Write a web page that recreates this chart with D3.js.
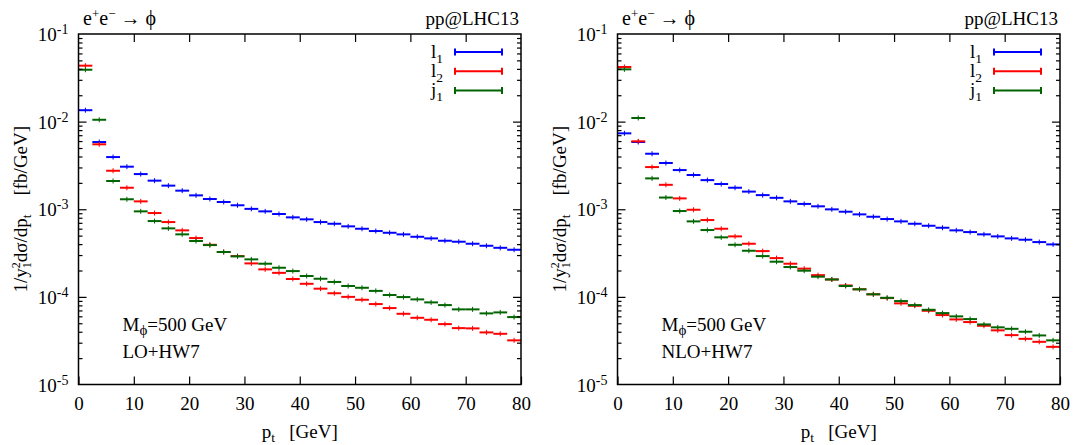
<!DOCTYPE html>
<html>
<head>
<meta charset="utf-8">
<script src="https://cdn.jsdelivr.net/npm/d3@7"></script>
<style>
  body { margin: 0; background: #fff; }
  svg text { font-family: "Liberation Serif", "Times New Roman", serif; fill: #000; }
</style>
</head>
<body>
<svg id="chart" width="1073" height="445"></svg>
<script>
// pt bins, 2.5 GeV wide
const binLow = [0, 2.5, 5, 7.5, 10, 12.5, 15, 17.5, 20, 22.5, 25, 27.5, 30, 32.5, 35, 37.5,
  40, 42.5, 45, 47.5, 50, 52.5, 55, 57.5, 60, 62.5, 65, 67.5, 70, 72.5, 75, 77.5];
const binWidth = 2.5;
const xTicks = [0, 10, 20, 30, 40, 50, 60, 70, 80];
const yDecades = [-5, -4, -3, -2, -1];

// LO+HW7
const loL1 = [0.0135, 0.00585, 0.00394, 0.00306, 0.00252, 0.00212, 0.00186, 0.00163, 0.00144, 0.00131,
  0.00121, 0.00111, 0.00101, 9.46e-4, 8.82e-4, 8.08e-4, 7.67e-4, 7.14e-4, 6.83e-4, 6.38e-4, 5.99e-4,
  5.64e-4, 5.39e-4, 5.17e-4, 4.85e-4, 4.65e-4, 4.37e-4, 4.26e-4, 4.04e-4, 3.83e-4, 3.63e-4, 3.45e-4];
const loL2 = [0.0435, 0.00551, 0.00275, 0.00176, 0.00123, 9.05e-4, 7.14e-4, 5.74e-4, 4.69e-4, 3.93e-4,
  3.25e-4, 2.92e-4, 2.41e-4, 2.06e-4, 1.88e-4, 1.60e-4, 1.41e-4, 1.24e-4, 1.10e-4, 1.00e-4, 9.27e-5,
  8.28e-5, 7.45e-5, 6.41e-5, 5.77e-5, 5.48e-5, 4.89e-5, 4.40e-5, 4.37e-5, 3.93e-5, 3.79e-5, 3.19e-5];
const loJ1 = [0.0391, 0.0105, 0.0021, 0.0013, 9.46e-4, 7.33e-4, 6.05e-4, 5.17e-4, 4.34e-4, 3.90e-4,
  3.25e-4, 2.90e-4, 2.68e-4, 2.39e-4, 2.15e-4, 1.97e-4, 1.73e-4, 1.61e-4, 1.48e-4, 1.33e-4, 1.27e-4,
  1.17e-4, 1.05e-4, 9.95e-5, 9.36e-5, 8.65e-5, 8.06e-5, 7.20e-5, 7.20e-5, 6.48e-5, 6.65e-5, 5.88e-5];

// NLO+HW7
const nloL1 = [0.00735, 0.00585, 0.0043, 0.00337, 0.0028, 0.00246, 0.00215, 0.00194, 0.00176, 0.00159,
  0.00145, 0.00135, 0.00123, 0.00115, 0.00108, 9.97e-4, 9.37e-4, 8.74e-4, 8.21e-4, 7.73e-4, 7.27e-4,
  6.83e-4, 6.48e-4, 6.15e-4, 5.74e-4, 5.49e-4, 5.17e-4, 4.90e-4, 4.65e-4, 4.49e-4, 4.22e-4, 3.97e-4];
const nloL2 = [0.042, 0.00596, 0.00303, 0.0019, 0.00133, 9.87e-4, 7.53e-4, 5.99e-4, 4.90e-4, 4.04e-4,
  3.33e-4, 2.77e-4, 2.39e-4, 2.10e-4, 1.77e-4, 1.58e-4, 1.35e-4, 1.22e-4, 1.07e-4, 9.69e-5, 8.43e-5,
  7.91e-5, 6.94e-5, 6.20e-5, 5.53e-5, 5.16e-5, 4.68e-5, 4.15e-5, 3.66e-5, 3.32e-5, 3.07e-5, 2.69e-5];
const nloJ1 = [0.0395, 0.011, 0.00225, 0.00136, 9.54e-4, 7.27e-4, 5.79e-4, 4.78e-4, 3.93e-4, 3.36e-4,
  2.92e-4, 2.52e-4, 2.19e-4, 1.99e-4, 1.70e-4, 1.58e-4, 1.33e-4, 1.22e-4, 1.07e-4, 9.76e-5, 8.96e-5,
  8.06e-5, 7.12e-5, 6.53e-5, 5.99e-5, 5.58e-5, 4.85e-5, 4.49e-5, 4.32e-5, 4.00e-5, 3.63e-5, 3.19e-5];

const seriesNames = ["l", "l", "j"];
const seriesSubs = ["1", "2", "1"];
const seriesColors = ["#0000ff", "#ff0000", "#006400"];

const $svg = d3.select("#chart");
const plotTop = 34,
  plotBottom = 384.5,
  fontSize = 19;

const panels = [
  { left: 78.5, right: 521, order: "LO+HW7", series: [loL1, loL2, loJ1] },
  { left: 617.5, right: 1060, order: "NLO+HW7", series: [nloL1, nloL2, nloJ1] }
];

const y = d3.scaleLog().domain([1e-5, 1e-1]).range([plotBottom, plotTop]);
const yMajor = yDecades.map(k => Math.pow(10, k));
const yMinor = [];
yDecades.slice(0, -1).forEach(k => {
  for (let m = 2; m <= 9; m++) yMinor.push(m * Math.pow(10, k));
});

function styleAxis(g) {
  g.select(".domain").remove();
  g.selectAll(".tick line").attr("stroke", "#000").attr("stroke-width", 1.2);
  g.selectAll("text").attr("font-family", null).attr("font-size", fontSize).attr("fill", "#000");
}

function drawPanel(p) {
  const x = d3.scaleLinear().domain([0, 80]).range([p.left, p.right]);
  const g = $svg.append("g");

  // histogram bins with their error ticks
  p.series.forEach((vals, s) => {
    const sg = g.append("g").attr("stroke", seriesColors[s]);
    sg.selectAll("line.bin")
      .data(vals)
      .join("line")
      .attr("class", "bin")
      .attr("x1", (d, i) => x(binLow[i]))
      .attr("x2", (d, i) => x(binLow[i] + binWidth))
      .attr("y1", d => y(d))
      .attr("y2", d => y(d))
      .attr("stroke-width", 2);
    sg.selectAll("line.err")
      .data(vals)
      .join("line")
      .attr("class", "err")
      .attr("x1", (d, i) => x(binLow[i] + binWidth / 2))
      .attr("x2", (d, i) => x(binLow[i] + binWidth / 2))
      .attr("y1", d => y(d) - 2.5)
      .attr("y2", d => y(d) + 2.5)
      .attr("stroke-width", 1);
  });

  // axes, ticks pointing inward on all four sides
  g.append("g")
    .attr("transform", `translate(0,${plotBottom})`)
    .call(d3.axisBottom(x).tickValues(xTicks).tickSize(-8).tickPadding(12).tickFormat(d3.format("d")))
    .call(styleAxis);
  g.append("g")
    .attr("transform", `translate(0,${plotTop})`)
    .call(d3.axisTop(x).tickValues(xTicks.slice(1, -1)).tickSize(-8).tickFormat(""))
    .call(styleAxis);
  [[d3.axisLeft, p.left], [d3.axisRight, p.right]].forEach(([axisFn, pos]) => {
    g.append("g")
      .attr("transform", `translate(${pos},0)`)
      .call(axisFn(y).tickValues(yMajor.slice(1, -1)).tickSize(-8).tickFormat(""))
      .call(styleAxis);
    g.append("g")
      .attr("transform", `translate(${pos},0)`)
      .call(axisFn(y).tickValues(yMinor).tickSize(-4).tickFormat(""))
      .call(styleAxis);
  });

  g.append("rect")
    .attr("x", p.left)
    .attr("y", plotTop)
    .attr("width", p.right - p.left)
    .attr("height", plotBottom - plotTop)
    .attr("fill", "none")
    .attr("stroke", "#000")
    .attr("stroke-width", 1.5);

  // y tick labels 10^k
  yDecades.forEach(k => {
    const t = g.append("text")
      .attr("x", p.left - 10)
      .attr("y", y(Math.pow(10, k)) + 7)
      .attr("text-anchor", "end")
      .attr("font-size", fontSize);
    t.append("tspan").text("10");
    t.append("tspan").attr("dy", -7).attr("font-size", 14).text(k);
  });

  // axis titles
  const xl = g.append("text")
    .attr("x", (p.left + p.right) / 2)
    .attr("y", 438)
    .attr("text-anchor", "middle")
    .attr("font-size", fontSize);
  xl.append("tspan").text("p");
  xl.append("tspan").attr("dy", 4).attr("font-size", 13.5).text("t");
  xl.append("tspan").attr("dy", -4).text("\u00a0\u00a0\u00a0[GeV]");

  const yl = g.append("text")
    .attr("transform", `translate(${p.left - 51.5},${(plotTop + plotBottom) / 2}) rotate(-90)`)
    .attr("text-anchor", "middle")
    .attr("font-size", fontSize);
  yl.append("tspan").text("1/y");
  yl.append("tspan").attr("dy", -7).attr("font-size", 12).text("2");
  yl.append("tspan").attr("dx", -6).attr("dy", 11).attr("font-size", 12).text("1");
  yl.append("tspan").attr("dy", -4).text("d\u03c3/dp");
  yl.append("tspan").attr("dy", 4).attr("font-size", 13.5).text("t");
  yl.append("tspan").attr("dy", -4).text("\u00a0\u00a0\u00a0\u00a0[fb/GeV]");

  // process / collider labels
  const tt = g.append("text").attr("x", p.left + 4.5).attr("y", 25).attr("font-size", 20);
  tt.append("tspan").text("e");
  tt.append("tspan").attr("dy", -7).attr("font-size", 13).text("+");
  tt.append("tspan").attr("dy", 7).text("e");
  tt.append("tspan").attr("dy", -7).attr("font-size", 13).text("\u2212");
  tt.append("tspan").attr("dy", 7).text("\u00a0\u2192\u00a0\u03d5");
  g.append("text")
    .attr("x", p.right - 2)
    .attr("y", 25)
    .attr("text-anchor", "end")
    .attr("font-size", fontSize)
    .text("pp@LHC13");

  // mass and order annotation
  const mt = g.append("text").attr("x", p.left + 44).attr("y", 330.5).attr("font-size", fontSize);
  mt.append("tspan").text("M");
  mt.append("tspan").attr("dy", 4).attr("font-size", 15).text("\u03d5");
  mt.append("tspan").attr("dy", -4).text("=500 GeV");
  g.append("text")
    .attr("x", p.left + 44)
    .attr("y", 357.5)
    .attr("font-size", fontSize)
    .text(p.order);

  // legend
  const lx1 = p.right - 66,
    lx2 = p.right - 19;
  seriesNames.forEach((name, s) => {
    const ly = 52 + s * 19.2;
    const lt = g.append("text")
      .attr("x", lx1 - 12)
      .attr("y", ly + 6)
      .attr("text-anchor", "end")
      .attr("font-size", fontSize);
    lt.append("tspan").text(name);
    lt.append("tspan").attr("dy", 5).attr("font-size", 13.5).text(seriesSubs[s]);
    const lg = g.append("g").attr("stroke", seriesColors[s]).attr("stroke-width", 2);
    lg.append("line").attr("x1", lx1).attr("x2", lx2).attr("y1", ly).attr("y2", ly);
    [lx1, lx2].forEach(cx => {
      lg.append("line").attr("x1", cx).attr("x2", cx).attr("y1", ly - 3.5).attr("y2", ly + 3.5);
    });
  });
}

panels.forEach(drawPanel);
</script>
</body>
</html>
